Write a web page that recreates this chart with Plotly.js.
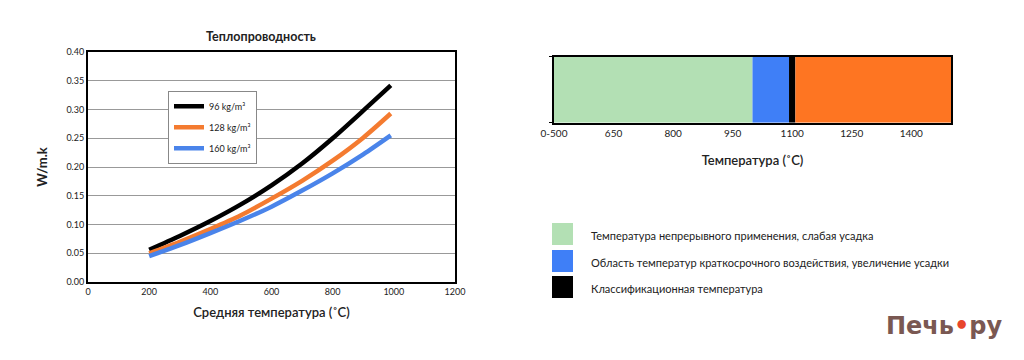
<!DOCTYPE html>
<html>
<head>
<meta charset="utf-8">
<script src="https://cdn.plot.ly/plotly-3.0.1.min.js"></script>
<style>html,body{margin:0;padding:0;background:#fff;}#chart{width:1024px;height:360px;}</style>
</head>
<body>
<div id="chart"></div>
<script>
// ---- Left chart data: thermal conductivity ----
const temps = [200, 300, 400, 500, 600, 700, 800, 900, 990];
const k96  = [0.056, 0.080, 0.106, 0.135, 0.168, 0.206, 0.250, 0.298, 0.342];
const k128 = [0.050, 0.070, 0.092, 0.116, 0.145, 0.176, 0.211, 0.251, 0.293];
const k160 = [0.045, 0.064, 0.085, 0.107, 0.131, 0.159, 0.189, 0.222, 0.255];
const seriesNames = ['96 kg/m³', '128 kg/m³', '160 kg/m³'];
const seriesColors = ['#000000', '#f47b30', '#4a84ea'];

// ---- Right chart data: temperature ranges ----
const rangeStart = [500, 1000, 1092, 1108];
const rangeEnd   = [1000, 1092, 1108, 1500];
const rangeColors = ['#b3e0b4', '#3f7ff7', '#000000', '#fe7522'];
const rangeTickVals = [500, 650, 800, 950, 1100, 1250, 1400];
const rangeTickText = ['0-500', '650', '800', '950', '1100', '1250', '1400'];
const rangeLegend = [
  'Температура непрерывного применения, слабая усадка',
  'Область температур краткосрочного воздействия, увеличение усадки',
  'Классификационная температура'
];

const FONT = 'Lato, "Open Sans", sans-serif';
const traces = [];
const kSeries = [k96, k128, k160];
kSeries.forEach((vals, i) => {
  traces.push({
    type: 'scatter', mode: 'lines', x: temps, y: vals,
    name: seriesNames[i], legendgroup: 'g' + i,
    line: {color: seriesColors[i], width: 4.5, shape: 'spline', smoothing: 0.8},
    xaxis: 'x', yaxis: 'y', hoverinfo: 'skip'
  });
});
rangeStart.forEach((s, i) => {
  traces.push({
    type: 'bar', orientation: 'h', y: [0], x: [rangeEnd[i] - s], base: [s],
    width: 1, marker: {color: rangeColors[i], line: {width: 0}},
    showlegend: false, xaxis: 'x2', yaxis: 'y2', hoverinfo: 'skip'
  });
});

const shapes = [];
const annotations = [];
// right legend: squares + labels
const legTop = [223, 250, 276];
rangeLegend.forEach((t, i) => {
  const y0 = legTop[i];
  shapes.push({type: 'rect', xref: 'paper', yref: 'paper',
    x0: 552 / 1024, x1: 573 / 1024, y0: 1 - (y0 + 22) / 360, y1: 1 - y0 / 360,
    fillcolor: rangeColors[i], line: {width: 0}});
  annotations.push({xref: 'paper', yref: 'paper', x: 589 / 1024, y: 1 - (y0 + 12) / 360,
    xanchor: 'left', yanchor: 'middle', showarrow: false, text: t,
    font: {family: FONT, size: 11, color: '#222'}});
});
// logo
annotations.push({xref: 'paper', yref: 'paper', x: 944 / 1024, y: 1 - 326 / 360,
  xanchor: 'center', yanchor: 'middle', showarrow: false,
  text: '<b>Печь<span style="color:#e8452c">•</span>ру</b>',
  font: {family: '"DejaVu Sans", sans-serif', size: 24, color: '#7a5852'}});

const layout = {
  width: 1024, height: 360,
  margin: {l: 0, r: 0, t: 0, b: 0},
  paper_bgcolor: '#fff', plot_bgcolor: '#fff',
  font: {family: FONT, color: '#222'},
  showlegend: true,
  barmode: 'overlay',
  title: {text: '<b>Теплопроводность</b>', x: 261 / 1024, xanchor: 'center',
    y: 1 - 37 / 360, yanchor: 'middle', font: {family: FONT, size: 12.5, color: '#222'}},
  xaxis: {domain: [88 / 1024, 455 / 1024], range: [0, 1200], tickvals: [0, 200, 400, 600, 800, 1000, 1200],
    showgrid: false, zeroline: false, showline: true, linecolor: '#000', linewidth: 2, mirror: true,
    ticks: '', tickfont: {family: FONT, size: 9, color: '#222'},
    title: {text: 'Средняя температура (˚C)', standoff: 12,
      font: {family: FONT, size: 13, color: '#222', weight: 600}}},
  yaxis: {domain: [1 - 282 / 360, 1 - 52 / 360], range: [0, 0.40], dtick: 0.05, tickformat: '.2f',
    showgrid: true, gridcolor: '#999', gridwidth: 1, zeroline: false,
    showline: true, linecolor: '#000', linewidth: 2, mirror: true, ticks: '',
    tickfont: {family: FONT, size: 9, color: '#222'},
    title: {text: '<b>W/m.k</b>', standoff: 16, font: {family: FONT, size: 13, color: '#222'}}},
  xaxis2: {domain: [554 / 1024, 951 / 1024], range: [500, 1500], anchor: 'y2',
    tickvals: rangeTickVals, ticktext: rangeTickText, showgrid: false, zeroline: false,
    showline: true, linecolor: '#000', linewidth: 2, mirror: true, ticks: '',
    tickfont: {family: FONT, size: 10, color: '#222'},
    title: {text: 'Температура (˚C)', standoff: 18,
      font: {family: FONT, size: 13, color: '#222', weight: 600}}},
  yaxis2: {domain: [1 - 122.7 / 360, 1 - 56.7 / 360], range: [-0.5, 0.5], anchor: 'x2',
    tickvals: [-0.5, 0.5], showticklabels: false, ticks: 'outside', ticklen: 3, tickcolor: '#000',
    showgrid: false, zeroline: false, showline: true, linecolor: '#000', linewidth: 2, mirror: true},
  legend: {x: 168 / 1024, y: 1 - 90.7 / 360, xanchor: 'left', yanchor: 'top',
    bgcolor: '#fff', bordercolor: '#888', borderwidth: 1, traceorder: 'grouped', tracegroupgap: 2,
    font: {family: FONT, size: 9, color: '#222'}},
  shapes: shapes, annotations: annotations
};

Plotly.newPlot('chart', traces, layout, {staticPlot: true, displayModeBar: false});
</script>
</body>
</html>
